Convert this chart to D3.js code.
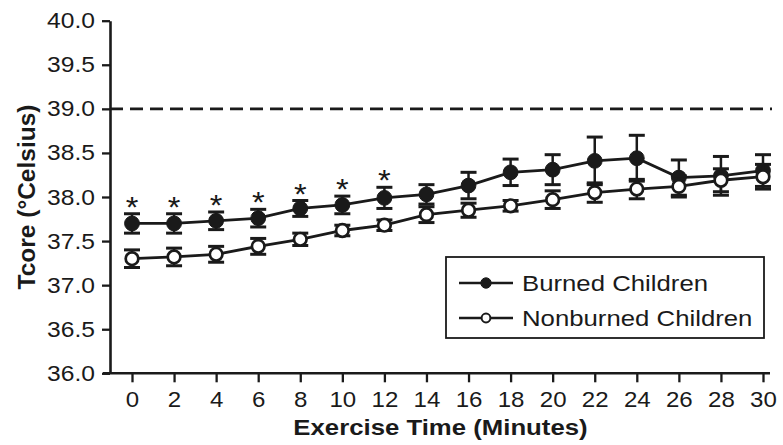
<!DOCTYPE html>
<html>
<head>
<meta charset="utf-8">
<script src="https://cdn.jsdelivr.net/npm/d3@7"></script>
<style>
  html, body { margin: 0; padding: 0; background: #ffffff; }
  svg { display: block; }
  text { font-family: "Liberation Sans", Arial, Helvetica, sans-serif; fill: #1a1a1a; }
</style>
</head>
<body>
<svg id="chart" width="783" height="445"></svg>
<script>
// ---- data ----
const times = [0, 2, 4, 6, 8, 10, 12, 14, 16, 18, 20, 22, 24, 26, 28, 30];
const burnedMean = [37.70, 37.70, 37.73, 37.76, 37.87, 37.91, 37.99, 38.03, 38.13, 38.28, 38.31, 38.41, 38.44, 38.22, 38.24, 38.30];
const burnedSE   = [0.11, 0.11, 0.10, 0.10, 0.09, 0.10, 0.12, 0.11, 0.15, 0.15, 0.17, 0.27, 0.26, 0.20, 0.22, 0.18];
const nonburnedMean = [37.30, 37.32, 37.35, 37.44, 37.52, 37.62, 37.68, 37.80, 37.85, 37.90, 37.97, 38.05, 38.09, 38.12, 38.19, 38.23];
const nonburnedSE   = [0.10, 0.10, 0.09, 0.09, 0.07, 0.06, 0.06, 0.09, 0.08, 0.06, 0.10, 0.11, 0.11, 0.12, 0.13, 0.14];
const significantTimes = [0, 2, 4, 6, 8, 10, 12];
const yTicks = [36.0, 36.5, 37.0, 37.5, 38.0, 38.5, 39.0, 39.5, 40.0];
const xTicks = [0, 2, 4, 6, 8, 10, 12, 14, 16, 18, 20, 22, 24, 26, 28, 30];
const referenceLine = 39.0;
const seriesNames = ["Burned Children", "Nonburned Children"];
const xTitle = "Exercise Time (Minutes)";
const yTitle = "Tcore (\u00B0Celsius)";

// ---- layout ----
const SX = 1.12; // horizontal stretch of the original lettering
const ink = "#1a1a1a";
const svg = d3.select("#chart");
const x = d3.scaleLinear().domain([0, 30]).range([132, 763]);
const y = d3.scaleLinear().domain([36, 40]).range([373.3, 20.7]);
const axisX0 = 110;

// y axis
const gy = svg.append("g").attr("transform", `translate(${axisX0},0)`)
  .call(d3.axisLeft(y).tickValues(yTicks).tickFormat(d3.format(".1f"))
        .tickSize(8).tickPadding(5.4).tickSizeOuter(0));
gy.select(".domain").attr("stroke", ink).attr("stroke-width", 2.6);
gy.selectAll(".tick line").attr("stroke", ink).attr("stroke-width", 2.3);
gy.selectAll(".tick text").attr("font-size", 22).attr("fill", ink)
  .style("font-family", "'Liberation Sans', Arial, sans-serif")
  .attr("transform", `scale(${SX},1)`);

// x axis
const gx = svg.append("g").attr("transform", `translate(0,${y(36)})`)
  .call(d3.axisBottom(x).tickValues(xTicks).tickFormat(d3.format("d"))
        .tickSize(9).tickPadding(9.4).tickSizeOuter(0));
gx.select(".domain").remove();
gx.selectAll(".tick line").attr("stroke", ink).attr("stroke-width", 2.3);
gx.selectAll(".tick text").attr("font-size", 21.5).attr("fill", ink)
  .style("font-family", "'Liberation Sans', Arial, sans-serif")
  .attr("transform", `scale(${SX},1)`);
svg.append("line").attr("x1", 103).attr("x2", 770)
  .attr("y1", y(36)).attr("y2", y(36))
  .attr("stroke", ink).attr("stroke-width", 2.6);

// reference dashed line
svg.append("line").attr("x1", axisX0).attr("x2", 772)
  .attr("y1", y(referenceLine)).attr("y2", y(referenceLine))
  .attr("stroke", ink).attr("stroke-width", 2.6)
  .attr("stroke-dasharray", "13,7");

// series drawing
function drawSeries(means, ses, filled) {
  const data = times.map((t, i) => ({ t, m: means[i], se: ses[i] }));
  const g = svg.append("g");
  const line = d3.line().x(d => x(d.t)).y(d => y(d.m));
  g.append("path").datum(data).attr("d", line)
    .attr("fill", "none").attr("stroke", ink).attr("stroke-width", 2.8);
  const eb = g.selectAll(".eb").data(data).enter().append("g");
  eb.append("line")
    .attr("x1", d => x(d.t)).attr("x2", d => x(d.t))
    .attr("y1", d => y(d.m - d.se)).attr("y2", d => y(d.m + d.se))
    .attr("stroke", ink).attr("stroke-width", 2.5);
  [1, -1].forEach(s => {
    eb.append("line")
      .attr("x1", d => x(d.t) - 8).attr("x2", d => x(d.t) + 8)
      .attr("y1", d => y(d.m + s * d.se)).attr("y2", d => y(d.m + s * d.se))
      .attr("stroke", ink).attr("stroke-width", 3);
  });
  g.selectAll(".pt").data(data).enter().append("circle")
    .attr("cx", d => x(d.t)).attr("cy", d => y(d.m))
    .attr("r", filled ? 7.4 : 6.3)
    .attr("fill", filled ? ink : "#ffffff")
    .attr("stroke", ink).attr("stroke-width", filled ? 1 : 2.7);
  return data;
}
drawSeries(burnedMean, burnedSE, true);
drawSeries(nonburnedMean, nonburnedSE, false);

// significance asterisks
svg.selectAll(".star").data(significantTimes).enter().append("text")
  .attr("x", t => x(t) / SX)
  .attr("transform", `scale(${SX},1)`)
  .attr("y", t => {
    const i = times.indexOf(t);
    return y(burnedMean[i] + burnedSE[i]) + 3;
  })
  .attr("text-anchor", "middle").attr("font-size", 29).text("*");

// legend
svg.append("rect").attr("x", 446).attr("y", 257).attr("width", 318).attr("height", 81)
  .attr("fill", "#ffffff").attr("stroke", ink).attr("stroke-width", 1.8);
const legRows = [
  { name: seriesNames[0], filled: true, cy: 283 },
  { name: seriesNames[1], filled: false, cy: 318 }
];
legRows.forEach(r => {
  svg.append("line").attr("x1", 459).attr("x2", 513).attr("y1", r.cy).attr("y2", r.cy)
    .attr("stroke", ink).attr("stroke-width", 2.4);
  svg.append("circle").attr("cx", 486).attr("cy", r.cy)
    .attr("r", r.filled ? 5.2 : 4.4)
    .attr("fill", r.filled ? ink : "#ffffff")
    .attr("stroke", ink).attr("stroke-width", r.filled ? 1 : 2);
  svg.append("text").attr("x", 522 / SX).attr("y", r.cy + 8)
    .attr("transform", `scale(${SX},1)`)
    .attr("font-size", 23).text(r.name);
});

// axis titles
svg.append("text").attr("x", 440.5 / SX).attr("y", 435)
  .attr("transform", `scale(${SX},1)`)
  .attr("text-anchor", "middle").attr("font-size", 23).attr("font-weight", "bold")
  .text(xTitle);
svg.append("text").attr("transform", "translate(35,197) rotate(-90)")
  .attr("text-anchor", "middle").attr("font-size", 24.5).attr("font-weight", "bold")
  .text(yTitle);
</script>
</body>
</html>
